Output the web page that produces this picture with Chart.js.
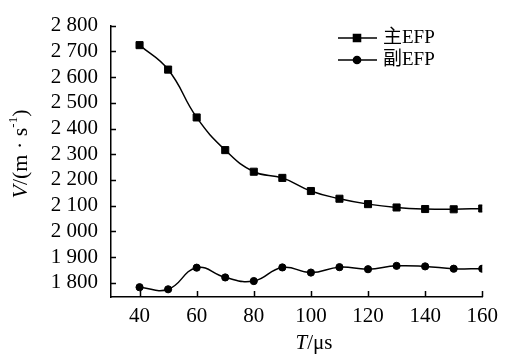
<!DOCTYPE html>
<html>
<head>
<meta charset="utf-8">
<script src="https://cdn.jsdelivr.net/npm/chart.js@4.4.0/dist/chart.umd.min.js"></script>
<style>
  html, body { margin: 0; padding: 0; background: #fff; }
  #wrap { width: 505px; height: 354px; }
</style>
</head>
<body>
<div id="wrap"><canvas id="chart"></canvas></div>
<script>
// data
var timeUs = [40, 50, 60, 70, 80, 90, 100, 110, 120, 130, 140, 150, 160];
var mainEFP = [2724, 2629, 2443, 2316, 2232, 2208, 2157, 2127, 2106, 2093, 2087, 2086, 2089];
var subEFP = [1783, 1775, 1859, 1821, 1807, 1860, 1840, 1861, 1853, 1866, 1864, 1855, 1855];
var seriesNames = ["主EFP", "副EFP"];
var xTicks = [40, 60, 80, 100, 120, 140, 160];
var yTicks = [1800, 1900, 2000, 2100, 2200, 2300, 2400, 2500, 2600, 2700, 2800];

var serif = '"Liberation Serif", "Noto Sans CJK SC", serif';

function toPoints(xs, ys){
    var pts = [];
    for (var i = 0; i < xs.length; i++) pts.push({x: xs[i], y: ys[i]});
    return pts;
}

function fmtThousands(v){
    var s = String(v);
    if (s.length > 3) s = s.slice(0, s.length - 3) + ' ' + s.slice(s.length - 3);
    return s;
}

// inward tick marks
var innerTicks = {
    id: 'innerTicks',
    afterDatasetsDraw: function(chart){
        var ctx = chart.ctx, xs = chart.scales.x, ys = chart.scales.y;
        var a = chart.chartArea;
        ctx.save();
        ctx.strokeStyle = '#000';
        ctx.lineWidth = 1.5;
        ctx.beginPath();
        yTicks.forEach(function(v){
            var py = Math.round(ys.getPixelForValue(v)) + 0.5;
            ctx.moveTo(a.left, py);
            ctx.lineTo(a.left + 5, py);
        });
        xTicks.forEach(function(v){
            var px = Math.round(xs.getPixelForValue(v)) + 0.5;
            ctx.moveTo(px, a.bottom);
            ctx.lineTo(px, a.bottom - 6);
        });
        ctx.stroke();
        ctx.restore();
    }
};

// axis titles with italic symbols and superscript
function drawRuns(ctx, runs, size){
    var total = 0;
    runs.forEach(function(r){
        ctx.font = (r.italic ? 'italic ' : '') + Math.round(size * (r.sup ? 0.6 : 1)) + 'px ' + serif;
        r.w = ctx.measureText(r.t).width;
        total += r.w;
    });
    var x = -total / 2;
    runs.forEach(function(r){
        ctx.font = (r.italic ? 'italic ' : '') + Math.round(size * (r.sup ? 0.6 : 1)) + 'px ' + serif;
        ctx.fillText(r.t, x, r.sup ? -size * 0.35 : 0);
        x += r.w;
    });
}

var axisTitles = {
    id: 'axisTitles',
    afterDraw: function(chart){
        var ctx = chart.ctx;
        ctx.save();
        ctx.fillStyle = '#000';
        ctx.textBaseline = 'middle';
        ctx.textAlign = 'left';
        ctx.translate(21, 154);
        ctx.rotate(-Math.PI / 2);
        drawRuns(ctx, [{t: 'V', italic: true}, {t: '/(m · s'}, {t: '-1', sup: true}, {t: ')'}], 22);
        ctx.restore();

        ctx.save();
        ctx.fillStyle = '#000';
        ctx.textBaseline = 'middle';
        ctx.textAlign = 'left';
        ctx.translate(314, 343);
        drawRuns(ctx, [{t: 'T', italic: true}, {t: '/μs'}], 21);
        ctx.restore();
    }
};

// legend: line with marker, then label
var lineLegend = {
    id: 'lineLegend',
    afterDraw: function(chart){
        var ctx = chart.ctx;
        var rowsY = [38, 60];
        chart.data.datasets.forEach(function(ds, i){
            var y = rowsY[i];
            ctx.save();
            ctx.strokeStyle = '#000';
            ctx.lineWidth = 1.5;
            ctx.beginPath();
            ctx.moveTo(338, y);
            ctx.lineTo(377, y);
            ctx.stroke();
            ctx.fillStyle = '#000';
            Chart.helpers.drawPoint(ctx, {pointStyle: ds.pointStyle, radius: ds.pointRadius, borderWidth: 1}, 357, y);
            ctx.fill();
            ctx.font = '19px ' + serif;
            ctx.textBaseline = 'middle';
            ctx.fillText(ds.label, 383, y);
            ctx.restore();
        });
    }
};

var ctx = document.getElementById('chart').getContext('2d');
window.myChart = new Chart(ctx, {
    type: 'line',
    data: {
        datasets: [
            { label: seriesNames[0], data: toPoints(timeUs, mainEFP), borderColor: '#000', backgroundColor: '#000', borderWidth: 1.5, pointStyle: 'rect', pointRadius: 5, pointBorderWidth: 1, tension: 0.45 },
            { label: seriesNames[1], data: toPoints(timeUs, subEFP), borderColor: '#000', backgroundColor: '#000', borderWidth: 1.5, pointStyle: 'circle', pointRadius: 3.6, pointBorderWidth: 1, tension: 0.45 }
        ]
    },
    options: {
        responsive: true,
        maintainAspectRatio: false,
        animation: false,
        layout: { padding: { left: 0, right: 19, top: 16, bottom: 0 } },
        plugins: { legend: { display: false }, tooltip: { enabled: false } },
        scales: {
            x: {
                type: 'linear', min: 30, max: 160,
                grid: { display: false, drawTicks: false },
                border: { display: true, color: '#000', width: 1.5 },
                afterBuildTicks: function(s){ s.ticks = xTicks.map(function(v){ return {value: v}; }); },
                afterFit: function(s){ s.height = 57; },
                ticks: { color: '#000', padding: 7, maxRotation: 0, autoSkip: false, font: { family: serif, size: 21 } }
            },
            y: {
                type: 'linear', min: 1745, max: 2800,
                grid: { display: false, drawTicks: false },
                border: { display: true, color: '#000', width: 1.5 },
                afterBuildTicks: function(s){ s.ticks = yTicks.map(function(v){ return {value: v}; }); },
                afterFit: function(s){ s.width = 111; },
                ticks: { color: '#000', padding: 13, autoSkip: false, font: { family: serif, size: 21 }, callback: function(v){ return fmtThousands(v); } }
            }
        }
    },
    plugins: [innerTicks, axisTitles, lineLegend]
});
</script>
</body>
</html>
